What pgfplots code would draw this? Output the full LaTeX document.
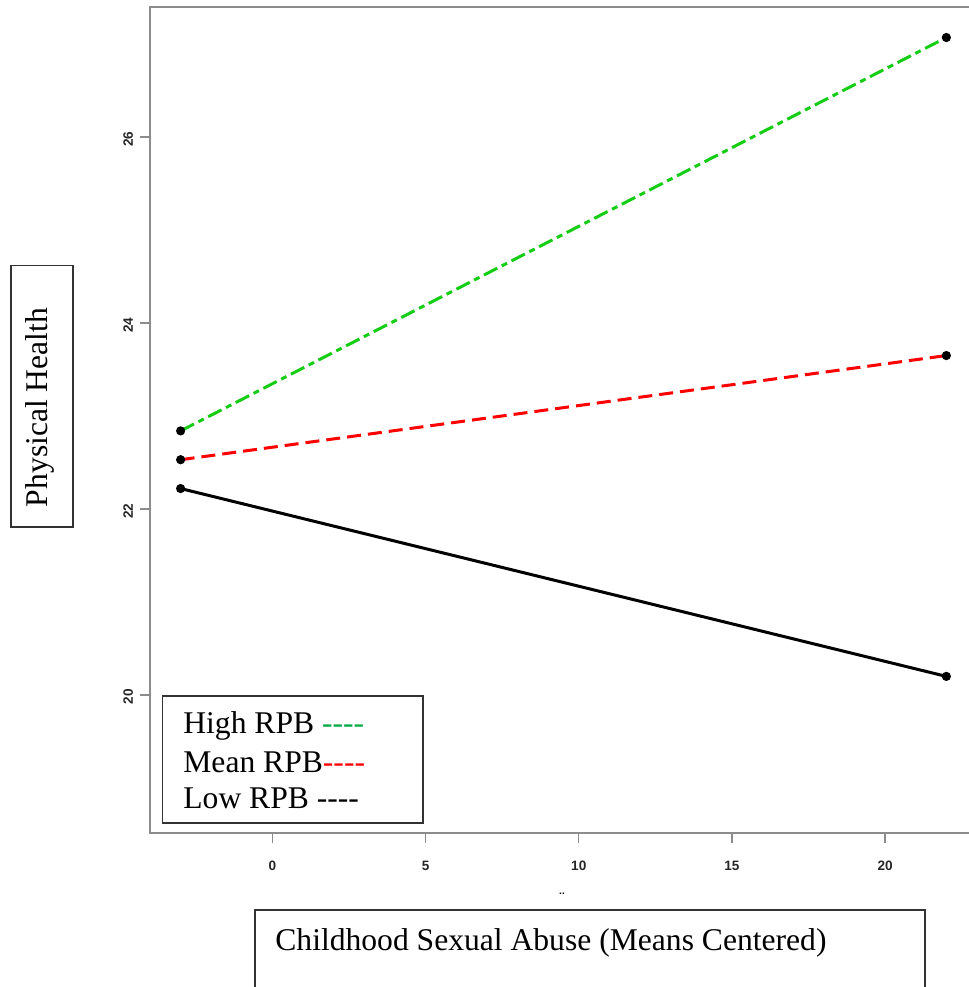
\documentclass[border=0pt]{standalone}
\usepackage{pgfplots}
\pgfplotsset{compat=1.18}
\usepackage{fontspec}
\setmainfont{Liberation Serif}
\newfontfamily\arialfont{Liberation Sans}
\definecolor{rgreen}{RGB}{20,205,20}
\definecolor{rred}{RGB}{255,0,0}
\definecolor{leggreen}{RGB}{0,170,70}
\definecolor{spine}{RGB}{140,140,140}
\newcommand{\dashes}{-{}-{}-{}-}
\begin{document}
\begin{tikzpicture}
\begin{axis}[
  at={(0,0)}, anchor=south west,
  scale only axis,
  width=409.5pt, height=413pt,
  xmin=-4, xmax=22.74,
  ymin=18.516, ymax=27.398,
  axis line style={draw=none},
  xtick={0,5,10,15,20},
  ytick={20,22,24,26},
  xtick pos=left, ytick pos=left,
  tick align=outside,
  major tick length=5pt,
  tick style={spine, line width=0.6pt},
  /pgf/number format/assume math mode=true,
  ticklabel style={font=\arialfont\bfseries\fontsize{6.8}{8}\selectfont, text=black!85},
  xticklabel style={yshift=-5.5pt},
  yticklabel style={rotate=90, anchor=south, xshift=-1pt},
  clip=false,
]
\addplot[rgreen, line width=1.5pt, dash pattern=on 7.5pt off 2.5pt on 3pt off 2.5pt,
  mark=*, mark size=1.5pt, mark options={solid, black, fill=black}]
  coordinates {(-3,22.84) (22,27.07)};
\addplot[rred, line width=1.5pt, dash pattern=on 7pt off 3.5pt,
  mark=*, mark size=1.5pt, mark options={solid, black, fill=black}]
  coordinates {(-3,22.53) (22,23.65)};
\addplot[black, line width=1.5pt,
  mark=*, mark size=1.5pt, mark options={solid, black, fill=black}]
  coordinates {(-3,22.22) (22,20.20)};
\end{axis}
% spines (left, top, bottom)
\draw[spine, line width=1pt] (409.5pt,413pt) -- (0,413pt) -- (0,0) -- (409.5pt,0);
% legend box
\draw[black!80, line width=0.8pt] (6.35pt,5pt) rectangle (136.35pt,68.5pt);
\node[anchor=base west, inner sep=0, font=\fontsize{15.8}{19}\selectfont] at (16.5pt,50pt) {High RPB \textcolor{leggreen}{\dashes}};
\node[anchor=base west, inner sep=0, font=\fontsize{15.8}{19}\selectfont] at (16.5pt,30.5pt) {Mean RPB\textcolor{rred}{\dashes}};
\node[anchor=base west, inner sep=0, font=\fontsize{15.8}{19}\selectfont] at (16.5pt,12.5pt) {Low RPB \dashes};
% y label box
\draw[black!80, line width=0.8pt] (-69.5pt,153pt) rectangle (-38.5pt,283.65pt);
\node[rotate=90, inner sep=0, font=\fontsize{15.8}{19}\selectfont] at (-55pt,212.75pt) {Physical Health};
% x label box
\draw[black!80, line width=0.8pt] (52.5pt,-100pt) -- (52.5pt,-38.5pt) -- (387.5pt,-38.5pt) -- (387.5pt,-100pt);
\node[anchor=base west, inner sep=0, font=\fontsize{15.8}{19}\selectfont] at (62.5pt,-58.5pt) {Childhood Sexual Abuse (Means Centered)};
\node[inner sep=0, font=\arialfont\bfseries\fontsize{5}{6}\selectfont] at (206pt,-30.5pt) {..};
\pgfresetboundingbox
\path[use as bounding box] (-75pt,-77pt) rectangle (409.5pt,416.5pt);
\end{tikzpicture}
\end{document}
